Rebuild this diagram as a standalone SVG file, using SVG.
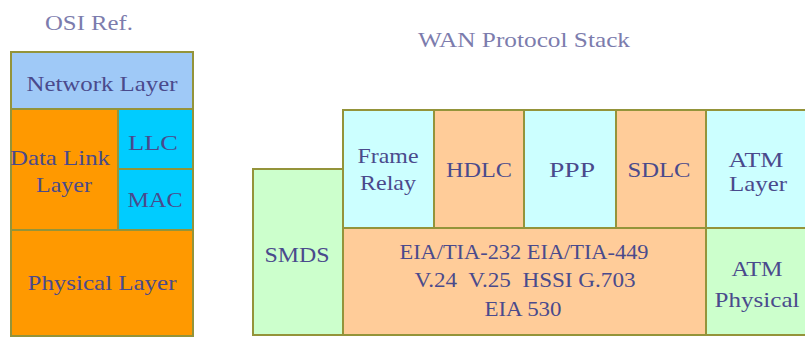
<svg xmlns="http://www.w3.org/2000/svg" width="805" height="340" viewBox="0 0 805 340">
  <style>
    .box { stroke: #94943a; stroke-width: 2; }
    .netw { fill: #9fc9f7; }
    .orng { fill: #ff9900; }
    .cyan { fill: #00ccff; }
    .lcyan { fill: #ccffff; }
    .peach { fill: #ffcc99; }
    .lgrn { fill: #ccffcc; }
    text { font-family: 'Times New Roman', 'Liberation Serif', 'Noto Serif', 'DejaVu Serif', Times, serif; font-size: 22px; fill: #4a4a8c; text-anchor: middle; }
    .title { fill: #7c7cad; font-size: 21px; }
  </style>
  <rect width="805" height="340" fill="#ffffff"/>

  <!-- OSI reference column -->
  <text class="title" x="89" y="30" textLength="88" lengthAdjust="spacingAndGlyphs">OSI Ref.</text>
  <g id="osi-network">
    <rect class="box netw" x="11" y="52" width="182" height="57"/>
    <text x="102" y="91" textLength="151" lengthAdjust="spacingAndGlyphs">Network Layer</text>
  </g>
  <g id="osi-datalink">
    <rect class="box orng" x="11" y="109" width="107" height="121"/>
    <text x="60" y="165" textLength="100" lengthAdjust="spacingAndGlyphs">Data Link</text>
    <text x="64" y="192" textLength="56" lengthAdjust="spacingAndGlyphs">Layer</text>
  </g>
  <g id="osi-llc">
    <rect class="box cyan" x="118" y="109" width="75" height="60"/>
    <text x="153" y="150" textLength="50" lengthAdjust="spacingAndGlyphs">LLC</text>
  </g>
  <g id="osi-mac">
    <rect class="box cyan" x="118" y="169" width="75" height="61"/>
    <text x="155" y="207" textLength="55" lengthAdjust="spacingAndGlyphs">MAC</text>
  </g>
  <g id="osi-physical">
    <rect class="box orng" x="11" y="230" width="182" height="106"/>
    <text x="102" y="290" textLength="149" lengthAdjust="spacingAndGlyphs">Physical Layer</text>
  </g>

  <!-- WAN protocol stack -->
  <text class="title" x="524" y="47" textLength="212" lengthAdjust="spacingAndGlyphs">WAN Protocol Stack</text>
  <g id="wan-smds">
    <rect class="box lgrn" x="253" y="169" width="90" height="166"/>
    <text x="297" y="262" textLength="65" lengthAdjust="spacingAndGlyphs">SMDS</text>
  </g>
  <g id="wan-frame-relay">
    <rect class="box lcyan" x="343" y="110" width="91" height="118"/>
    <text x="388" y="163" textLength="61" lengthAdjust="spacingAndGlyphs">Frame</text>
    <text x="388" y="190" textLength="56" lengthAdjust="spacingAndGlyphs">Relay</text>
  </g>
  <g id="wan-hdlc">
    <rect class="box peach" x="434" y="110" width="90" height="118"/>
    <text x="479" y="177" textLength="66" lengthAdjust="spacingAndGlyphs">HDLC</text>
  </g>
  <g id="wan-ppp">
    <rect class="box lcyan" x="524" y="110" width="92" height="118"/>
    <text x="572" y="177" textLength="46" lengthAdjust="spacingAndGlyphs">PPP</text>
  </g>
  <g id="wan-sdlc">
    <rect class="box peach" x="616" y="110" width="90" height="118"/>
    <text x="659" y="177" textLength="63" lengthAdjust="spacingAndGlyphs">SDLC</text>
  </g>
  <g id="wan-atm-layer">
    <rect class="box lcyan" x="706" y="110" width="104" height="118"/>
    <text x="756" y="167" textLength="55" lengthAdjust="spacingAndGlyphs">ATM</text>
    <text x="758" y="191" textLength="58" lengthAdjust="spacingAndGlyphs">Layer</text>
  </g>
  <g id="wan-physical">
    <rect class="box peach" x="343" y="228" width="363" height="107"/>
    <text x="524" y="259" textLength="249" lengthAdjust="spacingAndGlyphs">EIA/TIA-232 EIA/TIA-449</text>
    <text x="525" y="287" textLength="221" lengthAdjust="spacingAndGlyphs" xml:space="preserve">V.24  V.25  HSSI G.703</text>
    <text x="523" y="316" textLength="77" lengthAdjust="spacingAndGlyphs">EIA 530</text>
  </g>
  <g id="wan-atm-physical">
    <rect class="box lgrn" x="706" y="228" width="104" height="107"/>
    <text x="757" y="276" textLength="51" lengthAdjust="spacingAndGlyphs">ATM</text>
    <text x="757" y="307" textLength="85" lengthAdjust="spacingAndGlyphs">Physical</text>
  </g>
</svg>
